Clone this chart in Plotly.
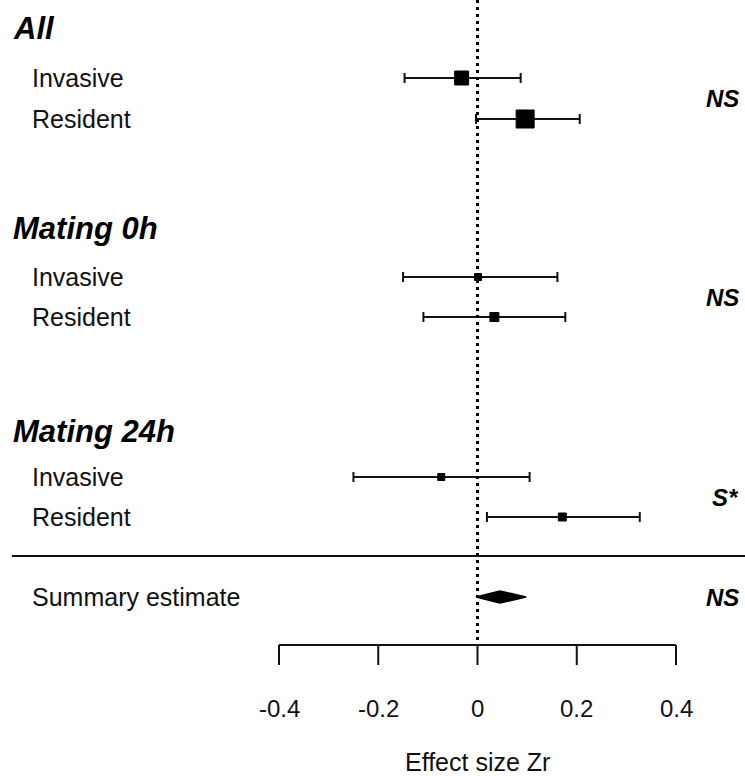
import plotly.graph_objects as go

# ---- data ----------------------------------------------------------------
groups = ["All", "Mating 0h", "Mating 24h"]
populations = ["Invasive", "Resident"]
zr = [-0.032, 0.096, 0.001, 0.034, -0.073, 0.171]
ci_low = [-0.147, -0.003, -0.150, -0.109, -0.250, 0.019]
ci_high = [0.087, 0.206, 0.161, 0.177, 0.105, 0.327]
group_significance = ["NS", "NS", "S*"]

summary_label = "Summary estimate"
summary_zr = 0.045
summary_low = -0.003
summary_high = 0.098
summary_significance = "NS"

tick_values = [-0.4, -0.2, 0, 0.2, 0.4]
tick_labels = ["-0.4", "-0.2", "0", "0.2", "0.4"]
x_title = "Effect size Zr"

# ---- layout (vertical positions in page pixels, marker sizes = weights) --
W, H = 745, 776
header_y = [28, 228, 431]
row_y = [78, 119, 277, 317, 477, 517]
sep_y = 556
summary_y = 597
axis_y = 645
tick_len = 20
marker_px = [14, 18, 7, 9, 7, 8]

px_per_unit = 496.25
zero_px = 477.5
x_range = [-zero_px / px_per_unit, (W - zero_px) / px_per_unit]

FONT = "Liberation Sans, Arial, sans-serif"
INK = "#111111"

fig = go.Figure()

# study-level estimates with confidence intervals
fig.add_trace(go.Scatter(
    x=zr,
    y=row_y,
    mode="markers",
    marker=dict(symbol="square", size=marker_px, color="black",
                opacity=1, line=dict(width=1, color="black")),
    error_x=dict(type="data", symmetric=False,
                 array=[h - m for h, m in zip(ci_high, zr)],
                 arrayminus=[m - l for m, l in zip(zr, ci_low)],
                 color=INK, thickness=2, width=5),
    showlegend=False, hoverinfo="x",
))

# summary diamond
fig.add_trace(go.Scatter(
    x=[summary_low, summary_zr, summary_high, summary_zr, summary_low],
    y=[summary_y, summary_y - 6, summary_y, summary_y + 6, summary_y],
    mode="lines", fill="toself", fillcolor="black",
    line=dict(color="black", width=1.5),
    showlegend=False, hoverinfo="skip",
))

shapes = []
# zero reference line
shapes.append(dict(type="line", xref="x", yref="y", x0=0, x1=0,
                   y0=0, y1=axis_y,
                   line=dict(color="black", width=3, dash="3px,4px")))
# separator above the summary row
shapes.append(dict(type="line", xref="paper", yref="y", x0=12 / W, x1=1,
                   y0=sep_y, y1=sep_y,
                   line=dict(color=INK, width=2)))
# x axis line and ticks
shapes.append(dict(type="line", xref="x", yref="y",
                   x0=tick_values[0], x1=tick_values[-1],
                   y0=axis_y, y1=axis_y,
                   line=dict(color=INK, width=2)))
for tv in tick_values:
    shapes.append(dict(type="line", xref="x", yref="y", x0=tv, x1=tv,
                       y0=axis_y, y1=axis_y + tick_len,
                       line=dict(color=INK, width=2)))

annotations = []
for tv, tl in zip(tick_values, tick_labels):
    annotations.append(dict(x=tv, y=axis_y + 63, xref="x", yref="y",
                            text=tl, showarrow=False,
                            font=dict(family=FONT, size=24, color=INK),
                            xanchor="center", yanchor="middle"))
annotations.append(dict(x=0, y=762, xref="x", yref="y", text=x_title,
                        showarrow=False,
                        font=dict(family=FONT, size=25, color=INK),
                        xanchor="center", yanchor="middle"))

for g, name in enumerate(groups):
    annotations.append(dict(x=11 / W, y=header_y[g], xref="paper", yref="y",
                            text=f"<b><i>{name}</i></b>", showarrow=False,
                            font=dict(family=FONT, size=31, color="black"),
                            xanchor="left", yanchor="middle"))
    for p, pop in enumerate(populations):
        annotations.append(dict(x=30 / W, y=row_y[2 * g + p], xref="paper",
                                yref="y", text=pop, showarrow=False,
                                font=dict(family=FONT, size=25, color=INK),
                                xanchor="left", yanchor="middle"))
    annotations.append(dict(x=741 / W,
                            y=(row_y[2 * g] + row_y[2 * g + 1]) / 2,
                            xref="paper", yref="y",
                            text=f"<b><i>{group_significance[g]}</i></b>",
                            showarrow=False,
                            font=dict(family=FONT, size=24, color="black"),
                            xanchor="right", yanchor="middle"))

annotations.append(dict(x=30 / W, y=summary_y, xref="paper", yref="y",
                        text=summary_label, showarrow=False,
                        font=dict(family=FONT, size=25, color=INK),
                        xanchor="left", yanchor="middle"))
annotations.append(dict(x=741 / W, y=summary_y, xref="paper", yref="y",
                        text=f"<b><i>{summary_significance}</i></b>",
                        showarrow=False,
                        font=dict(family=FONT, size=24, color="black"),
                        xanchor="right", yanchor="middle"))

fig.update_layout(
    width=W, height=H,
    margin=dict(l=0, r=0, t=0, b=0),
    paper_bgcolor="white", plot_bgcolor="white",
    xaxis=dict(range=x_range, visible=False, fixedrange=True),
    yaxis=dict(range=[H, 0], visible=False, fixedrange=True),
    shapes=shapes, annotations=annotations,
    showlegend=False,
)

fig.write_html("out.html")
